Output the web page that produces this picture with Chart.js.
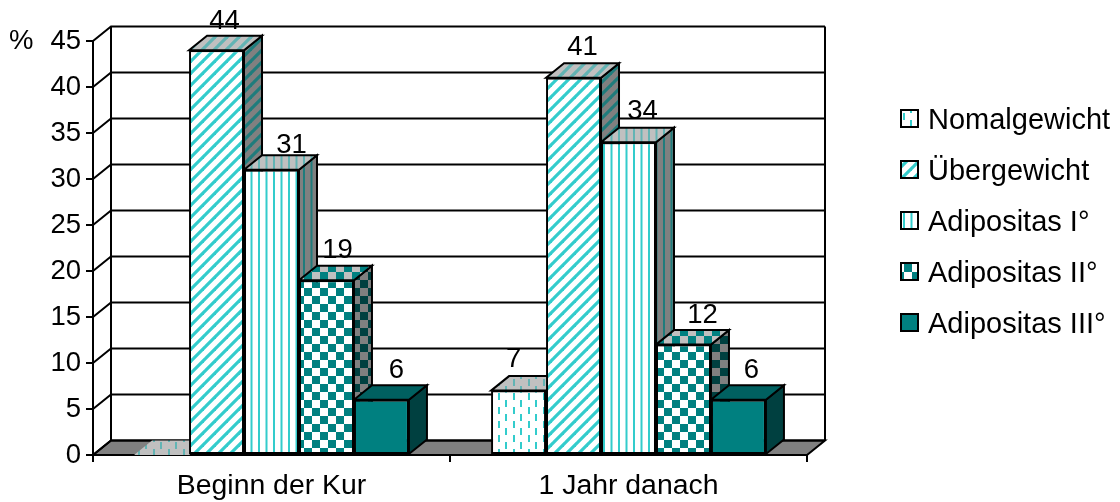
<!DOCTYPE html>
<html>
<head>
<meta charset="utf-8">
<script src="https://cdn.jsdelivr.net/npm/chart.js@4"></script>
<style>
    html, body { margin: 0; background: #fff; }
    canvas { display: block; }
</style>
</head>
<body>
<canvas id="chart" width="1120" height="502"></canvas>
<script>
const categories = ["Beginn der Kur", "1 Jahr danach"];
const seriesNames = ["Nomalgewicht", "Übergewicht", "Adipositas I°", "Adipositas II°", "Adipositas III°"];
const normalWeight = [0, 7];
const overweight = [44, 41];
const obesityOne = [31, 34];
const obesityTwo = [19, 12];
const obesityThree = [6, 6];

const FAMILY = "'Liberation Sans', Arial, sans-serif";
const LABEL_FONT = "27.5px " + FAMILY;
const LEGEND_FONT = "29px " + FAMILY;
const DEPTH_X = 18;
const DEPTH_Y = 14.5;
const LINE = 2;
// label nudges, the original chart had them placed by hand
const LABEL_SHIFT_X = [
    [0, -5],
    [8, 9],
    [20, 14],
    [11, 19],
    [15, 13],
];
const LABEL_LIFT = [
    [0, 9],
    [7, 8],
    [2, 9],
    [8, 7],
    [7, 7],
];

function tile(w, h, bg, paint) {
    const c = document.createElement("canvas");
    c.width = w;
    c.height = h;
    const g = c.getContext("2d");
    g.fillStyle = bg;
    g.fillRect(0, 0, w, h);
    paint(g);
    return g.createPattern(c, "repeat");
}

function dashes(fg, bg) {
    return tile(15, 14, bg, (g) => {
        g.fillStyle = fg;
        g.fillRect(3, 1, 2, 7);
        g.fillRect(10, 8, 2, 6);
        g.fillRect(10, 0, 2, 1);
    });
}

function diagonal(fg, bg) {
    return tile(12, 12, bg, (g) => {
        g.strokeStyle = fg;
        g.lineWidth = 3.2;
        [-12, 0, 12].forEach((o) => {
            g.beginPath();
            g.moveTo(o - 2, 14);
            g.lineTo(o + 14, -2);
            g.stroke();
        });
    });
}

function vertical(fg, bg) {
    return tile(15, 4, bg, (g) => {
        g.fillStyle = fg;
        g.fillRect(3, 0, 2, 4);
        g.fillRect(10.5, 0, 2, 4);
    });
}

function checker(fg, bg) {
    return tile(16, 16, bg, (g) => {
        g.fillStyle = fg;
        g.fillRect(0, 0, 8, 8);
        g.fillRect(8, 8, 8, 8);
    });
}

const TOP = "#c0c0c0";
const SIDE = "#808080";
const AQUA = "#33cccc";
const AQUA_TOP = "#62b4b4";
const AQUA_SIDE = "#1f7c7c";
const TEAL = "#008080";

const frontFaces = [dashes(AQUA, "#fff"), diagonal(AQUA, "#fff"), vertical(AQUA, "#fff"), checker(TEAL, "#fff"), TEAL];
const topFaces = [dashes(AQUA_TOP, TOP), diagonal(AQUA_TOP, TOP), vertical(AQUA_TOP, TOP), checker(TEAL, TOP), "#006060"];
const sideFaces = [dashes(AQUA_SIDE, SIDE), diagonal(AQUA_SIDE, SIDE), vertical(AQUA_SIDE, SIDE), checker("#004040", SIDE), "#004040"];

function poly(ctx, pts, fill, stroke = true) {
    ctx.beginPath();
    pts.forEach((p, i) => (i ? ctx.lineTo(p[0], p[1]) : ctx.moveTo(p[0], p[1])));
    ctx.closePath();
    ctx.fillStyle = fill;
    ctx.fill();
    if (stroke) ctx.stroke();
}

const box3d = {
    id: "box3d",
    beforeDatasetsDraw(chart) {
        const { ctx, chartArea: a, scales } = chart;
        ctx.save();
        ctx.strokeStyle = "#000";
        ctx.lineWidth = LINE;

        // floor, walls and grid
        poly(ctx, [
            [a.left, a.bottom],
            [a.left + DEPTH_X, a.bottom - DEPTH_Y],
            [a.right + DEPTH_X, a.bottom - DEPTH_Y],
            [a.right, a.bottom],
        ], SIDE);
        scales.y.ticks.forEach((t, i) => {
            const y = scales.y.getPixelForTick(i);
            ctx.beginPath();
            ctx.moveTo(a.left, y);
            ctx.lineTo(a.left + DEPTH_X, y - DEPTH_Y);
            ctx.lineTo(a.right + DEPTH_X, y - DEPTH_Y);
            ctx.stroke();
        });
        ctx.beginPath();
        ctx.moveTo(a.left + DEPTH_X, a.top - DEPTH_Y);
        ctx.lineTo(a.left + DEPTH_X, a.bottom - DEPTH_Y);
        ctx.moveTo(a.right + DEPTH_X, a.top - DEPTH_Y);
        ctx.lineTo(a.right + DEPTH_X, a.bottom - DEPTH_Y);
        ctx.stroke();

        // tops and sides, left to right so the next bar covers the last one
        categories.forEach((c, j) => {
            chart.data.datasets.forEach((ds, i) => {
                const bar = chart.getDatasetMeta(i).data[j];
                const l = bar.x - bar.width / 2;
                const r = bar.x + bar.width / 2;
                const flat = ds.data[j] === 0;
                poly(ctx, [
                    [r, bar.y],
                    [r + DEPTH_X, bar.y - DEPTH_Y],
                    [r + DEPTH_X, bar.base - DEPTH_Y],
                    [r, bar.base],
                ], sideFaces[i], !flat);
                poly(ctx, [
                    [l, bar.y],
                    [l + DEPTH_X, bar.y - DEPTH_Y],
                    [r + DEPTH_X, bar.y - DEPTH_Y],
                    [r, bar.y],
                ], topFaces[i], !flat);
            });
        });
        ctx.restore();
    },
    afterDraw(chart) {
        const { ctx } = chart;
        ctx.save();
        ctx.font = LABEL_FONT;
        ctx.fillStyle = "#000";
        ctx.textBaseline = "alphabetic";

        // value labels
        ctx.textAlign = "center";
        chart.data.datasets.forEach((ds, i) => {
            chart.getDatasetMeta(i).data.forEach((bar, j) => {
                if (ds.data[j] === 0) return;
                ctx.fillText(ds.data[j], bar.x + LABEL_SHIFT_X[i][j], bar.y - DEPTH_Y - LABEL_LIFT[i][j]);
            });
        });

        ctx.textAlign = "left";
        ctx.fillText("%", 9, 49);

        // legend
        ctx.font = LEGEND_FONT;
        ctx.strokeStyle = "#000";
        ctx.lineWidth = 2;
        chart.data.datasets.forEach((ds, i) => {
            const y = 118.5 + i * 51;
            ctx.fillStyle = ds.backgroundColor;
            ctx.fillRect(901, y - 8.5, 17, 17);
            ctx.strokeRect(901, y - 8.5, 17, 17);
            ctx.fillStyle = "#000";
            ctx.fillText(ds.label, 928, y + 10);
        });
        ctx.restore();
    },
};

new Chart(document.getElementById("chart"), {
    type: "bar",
    data: {
        labels: categories,
        datasets: [normalWeight, overweight, obesityOne, obesityTwo, obesityThree].map((values, i) => ({
            label: seriesNames[i],
            data: values,
            backgroundColor: frontFaces[i],
            borderColor: "#000",
            borderWidth: 2,
            borderSkipped: false,
            barPercentage: 1,
            categoryPercentage: 0.77,
        })),
    },
    options: {
        responsive: false,
        animation: false,
        layout: { padding: { top: 41, right: 313, left: 0, bottom: 0 } },
        plugins: {
            legend: { display: false },
            tooltip: { enabled: false },
        },
        scales: {
            x: {
                afterFit: (s) => { s.height = 47; },
                grid: { drawOnChartArea: false, color: "#000", lineWidth: LINE, tickLength: 7 },
                border: { color: "#000", width: LINE },
                ticks: { color: "#000", padding: 7, maxRotation: 0, font: { family: "'Liberation Sans'", size: 28.4 } },
            },
            y: {
                min: 0,
                max: 45,
                afterFit: (s) => { s.width = 93; },
                grid: { drawOnChartArea: false, color: "#000", lineWidth: LINE, tickLength: 7 },
                border: { color: "#000", width: LINE },
                ticks: { stepSize: 5, color: "#000", padding: 5, font: { family: "'Liberation Sans'", size: 27.5 } },
            },
        },
    },
    plugins: [box3d],
});
</script>
</body>
</html>
